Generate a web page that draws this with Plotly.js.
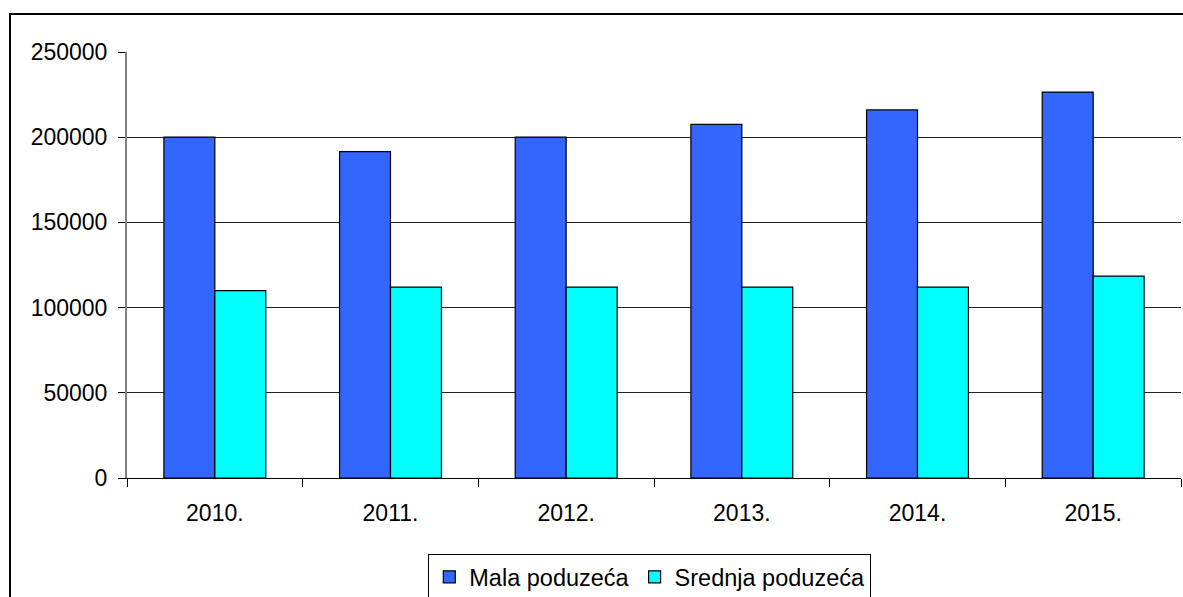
<!DOCTYPE html>
<html>
<head>
<meta charset="utf-8">
<script src="https://cdn.plot.ly/plotly-3.0.1.min.js"></script>
<style>
html,body{margin:0;padding:0;background:#fff;}
#chart{width:1183px;height:597px;}
</style>
</head>
<body>
<div id="chart"></div>
<script>
const years = ["2010.", "2011.", "2012.", "2013.", "2014.", "2015."];
const malaName = "Mala poduzeća";
const srednjaName = "Srednja poduzeća";
const mala = [200000, 191500, 200000, 207500, 216000, 226500];
const srednja = [110000, 112000, 112000, 112000, 112000, 118500];
const yTicks = [0, 50000, 100000, 150000, 200000, 250000];

const font = {family: "Liberation Sans, Arial, sans-serif", color: "#000"};

const traces = [
  {type: "bar", name: malaName, x: years, y: mala,
   marker: {color: "#3366FF", line: {color: "#000", width: 1.2}}, hoverinfo: "y"},
  {type: "bar", name: srednjaName, x: years, y: srednja,
   marker: {color: "#00FFFF", line: {color: "#000", width: 1.2}}, hoverinfo: "y"}
];

const L = 127, R = 1181, T = 52, B = 478;
const W = R - L, H = B - T;

const layout = {
  width: 1183, height: 597,
  margin: {l: L, r: 1183 - R, t: T, b: 597 - B, pad: 0, autoexpand: false},
  paper_bgcolor: "#fff", plot_bgcolor: "#fff",
  font: Object.assign({size: 23}, font),
  barmode: "group", bargap: 0.42, bargroupgap: 0,
  showlegend: true,
  legend: {
    orientation: "h", xref: "paper", x: 0.496, xanchor: "center",
    yref: "container", y: 1 - 554 / 597, yanchor: "top",
    bordercolor: "#000", borderwidth: 1, bgcolor: "#fff",
    font: Object.assign({size: 23.5}, font), tracegroupgap: 0
  },
  xaxis: {
    type: "category", tickson: "boundaries", ticks: "outside", ticklen: 8,
    tickcolor: "#000", tickwidth: 1, showline: true, linecolor: "#000", linewidth: 1,
    showgrid: false, zeroline: false, tickfont: Object.assign({size: 23}, font),
    ticklabelstandoff: 14
  },
  yaxis: {
    range: [0, 250000], tickvals: yTicks, ticktext: yTicks.map(String),
    ticks: "outside", ticklen: 7, tickcolor: "#000", tickwidth: 1,
    showline: true, linecolor: "#808080", linewidth: 2,
    showgrid: true, gridcolor: "#222", gridwidth: 1, zeroline: false,
    tickfont: Object.assign({size: 23}, font), ticklabelstandoff: 6
  },
  shapes: [
    {type: "rect", xref: "paper", yref: "paper",
     x0: (10 - L) / W, x1: (1400 - L) / W, y0: -(700 - B) / H, y1: (B - 14) / H,
     line: {color: "#000", width: 2}, fillcolor: "rgba(0,0,0,0)", layer: "above"}
  ]
};

Plotly.newPlot("chart", traces, layout, {displayModeBar: false, staticPlot: true});
</script>
</body>
</html>
